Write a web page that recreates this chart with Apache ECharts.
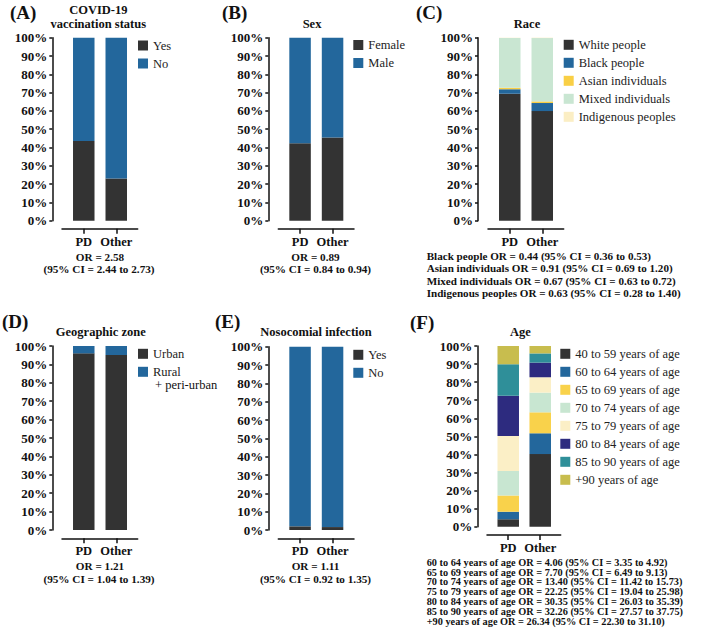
<!DOCTYPE html>
<html>
<head>
<meta charset="utf-8">
<script src="https://cdn.jsdelivr.net/npm/echarts@6/dist/echarts.min.js"></script>
<style>
  html, body { margin: 0; background: #fff; }
  #chart { width: 702px; height: 644px; }
</style>
</head>
<body>
<div id="chart"></div>
<script>
// categories and tick labels
const groups = ['PD', 'Other'];
const pctTicks = [0, 10, 20, 30, 40, 50, 60, 70, 80, 90, 100];

// (A) COVID-19 vaccination status
const vaccYes = [43.5, 23.0];
const vaccNo = [56.5, 77.0];
// (B) sex
const sexFemale = [42.3, 45.4];
const sexMale = [57.7, 54.6];
// (C) race, one array per group, same order as raceNames
const raceNames = ['White people', 'Black people', 'Asian individuals', 'Mixed individuals', 'Indigenous peoples'];
const racePD = [69.4, 2.4, 0.8, 27.2, 0.2];
const raceOther = [59.9, 4.4, 0.9, 34.6, 0.2];
// (D) geographic zone
const zoneUrban = [96.0, 95.1];
const zoneRural = [4.0, 4.9];
// (E) nosocomial infection
const nosoYes = [2.0, 1.6];
const nosoNo = [98.0, 98.4];
// (F) age
const ageNames = ['40 to 59 years of age', '60 to 64 years of age', '65 to 69 years of age', '70 to 74 years of age',
  '75 to 79 years of age', '80 to 84 years of age', '85 to 90 years of age', '+90 years of age'];
const agePD = [4.1, 4.2, 8.9, 13.6, 19.4, 22.3, 17.4, 10.1];
const ageOther = [40.2, 11.5, 11.6, 10.9, 8.5, 8.1, 5.1, 4.1];

// odds ratio notes
const orA = ['OR = 2.58', '(95% CI = 2.44 to 2.73)'];
const orB = ['OR = 0.89', '(95% CI = 0.84 to 0.94)'];
const orD = ['OR = 1.21', '(95% CI = 1.04 to 1.39)'];
const orE = ['OR = 1.11', '(95% CI = 0.92 to 1.35)'];
const orRace = [
  'Black people OR = 0.44 (95% CI = 0.36 to 0.53)',
  'Asian individuals OR = 0.91 (95% CI = 0.69 to 1.20)',
  'Mixed individuals OR = 0.67 (95% CI = 0.63 to 0.72)',
  'Indigenous peoples OR = 0.63 (95% CI = 0.28 to 1.40)'
];
const orAge = [
  '60 to 64 years of age OR = 4.06 (95% CI = 3.35 to 4.92)',
  '65 to 69 years of age OR = 7.70 (95% CI = 6.49 to 9.13)',
  '70 to 74 years of age OR = 13.40 (95% CI = 11.42 to 15.73)',
  '75 to 79 years of age OR = 22.25 (95% CI = 19.04 to 25.98)',
  '80 to 84 years of age OR = 30.35 (95% CI = 26.03 to 35.39)',
  '85 to 90 years of age OR = 32.26 (95% CI = 27.57 to 37.75)',
  '+90 years of age OR = 26.34 (95% CI = 22.30 to 31.10)'
];

const SERIF = 'Liberation Serif';
const DARK = '#333333';
const BLUE = '#23679c';
const raceColors = [DARK, BLUE, '#f9cf45', '#c9e6d2', '#fbeec4'];
const ageColors = [DARK, BLUE, '#f9d24b', '#c8e6d1', '#fbefc6', '#2d2b7f', '#2f8f99', '#c8bd4e'];

// turn per-group arrays into per-series arrays
const byIndex = (a, b) => a.map((v, i) => [v, b[i]]);

const panels = [
  { grid: { left: 62, top: 37.7, width: 75.7, height: 183 }, yOff: 9.7, xOff: 8, range: [-0.67, 1.66],
    legend: { left: 138, top: 39 }, names: ['Yes', 'No'], colors: [DARK, BLUE], values: [vaccYes, vaccNo] },
  { grid: { left: 278.3, top: 37.7, width: 75.7, height: 183 }, yOff: 10, xOff: 8, range: [-0.67, 1.66],
    legend: { left: 353.3, top: 38.5 }, names: ['Female', 'Male'], colors: [DARK, BLUE], values: [sexFemale, sexMale] },
  { grid: { left: 488, top: 37.7, width: 75.7, height: 183 }, yOff: 10, xOff: 8, range: [-0.67, 1.66],
    legend: { left: 563.7, top: 38.3 }, names: raceNames, colors: raceColors, values: byIndex(racePD, raceOther) },
  { grid: { left: 62, top: 346, width: 75.7, height: 184 }, yOff: 9.7, xOff: 8.3, range: [-0.67, 1.66],
    legend: { left: 138, top: 347.3 }, names: ['Urban', 'Rural'], colors: [DARK, BLUE], values: [zoneUrban, zoneRural] },
  { grid: { left: 278.3, top: 346.7, width: 75.7, height: 183.3 }, yOff: 10, xOff: 8.3, range: [-0.67, 1.66],
    legend: { left: 353.3, top: 348.3 }, names: ['Yes', 'No'], colors: [DARK, BLUE], values: [nosoYes, nosoNo] },
  { grid: { left: 487, top: 346, width: 73.7, height: 180.7 }, yOff: 9.7, xOff: 8.3, range: [-0.664, 1.64],
    legend: { left: 560.3, top: 347.3 }, names: ageNames, colors: ageColors, values: byIndex(agePD, ageOther) }
];

const grids = [], xAxes = [], yAxes = [], legends = [], series = [];
panels.forEach((p, i) => {
  grids.push(p.grid);
  xAxes.push({
    type: 'value', gridIndex: i, min: p.range[0], max: p.range[1], offset: p.xOff,
    splitLine: { show: false },
    axisLine: { show: true, onZero: false, lineStyle: { color: '#111', width: 1.5 } },
    axisTick: { show: true, customValues: [0, 1], length: 5, lineStyle: { color: '#111', width: 1.5 } },
    axisLabel: { customValues: [0, 1], margin: 6.5, formatter: v => groups[Math.round(v)],
      fontFamily: SERIF, fontWeight: 'bold', fontSize: 12.5, color: '#111' }
  });
  yAxes.push({
    type: 'value', gridIndex: i, min: pctTicks[0], max: pctTicks[pctTicks.length - 1],
    interval: pctTicks[1] - pctTicks[0], offset: p.yOff,
    splitLine: { show: false },
    axisLine: { show: true, onZero: false, lineStyle: { color: '#111', width: 1.5 } },
    axisTick: { show: true, length: 3, lineStyle: { color: '#111', width: 1.5 } },
    axisLabel: { margin: 5, formatter: '{value}%', fontFamily: SERIF, fontWeight: 'bold', fontSize: 13, color: '#111' }
  });
  legends.push({
    data: p.names, orient: 'vertical', left: p.legend.left, top: p.legend.top, padding: 0,
    itemWidth: 10, itemHeight: 10, itemGap: 5, icon: 'rect', selectedMode: false,
    textStyle: { fontFamily: SERIF, fontSize: 12.5, color: '#222', lineHeight: 10 }
  });
  p.names.forEach((name, k) => {
    // value first so that the stack is computed on the y dimension
    series.push({
      type: 'bar', name: name, xAxisIndex: i, yAxisIndex: i, stack: 'panel' + i,
      barWidth: 21.5, itemStyle: { color: p.colors[k] },
      encode: { x: 1, y: 0 },
      data: groups.map((g, j) => [p.values[k][j], j])
    });
  });
});

const txt = (x, y, text, size) => ({
  type: 'text', x: x, y: y,
  style: { text: text, fontFamily: SERIF, fontSize: size, fontWeight: 'bold', fill: '#111',
    align: 'center', verticalAlign: 'middle' }
});
const txtLeft = (x, y, text, size, weight) => ({
  type: 'text', x: x, y: y,
  style: { text: text, fontFamily: SERIF, fontSize: size, fontWeight: weight || 'bold', fill: '#111',
    align: 'left', verticalAlign: 'middle' }
});

const graphics = [
  txtLeft(10, 12, '(A)', 19), txtLeft(222, 12, '(B)', 19), txtLeft(416, 12, '(C)', 19),
  txtLeft(2, 321, '(D)', 19), txtLeft(215, 321, '(E)', 19), txtLeft(410, 322, '(F)', 19),
  txt(98.3, 10, 'COVID-19', 12.5), txt(98.3, 24, 'vaccination status', 12.5),
  txt(312, 24, 'Sex', 12.5), txt(527, 24, 'Race', 12.5),
  txt(100.8, 331.7, 'Geographic zone', 12.5), txt(316, 331.7, 'Nosocomial infection', 12.5),
  txt(520.3, 331.7, 'Age', 12.5),
  txt(100, 257, orA[0], 11.2), txt(99, 268.5, orA[1], 11.2),
  txt(315.5, 257, orB[0], 11.2), txt(315.5, 268.5, orB[1], 11.2),
  txt(100, 565.7, orD[0], 11.2), txt(99, 578.7, orD[1], 11.2),
  txt(315.5, 565.7, orE[0], 11.2), txt(315.5, 578.7, orE[1], 11.2),
  txtLeft(155, 384.5, '+ peri-urban', 12.5, 'normal')
];
orRace.forEach((line, k) => graphics.push(txtLeft(426.7, 255.7 + k * 12.5, line, 11.1)));
orAge.forEach((line, k) => graphics.push(txtLeft(426.7, 562.3 + k * 9.8, line, 10.3)));

const chart = echarts.init(document.getElementById('chart'), null, { renderer: 'svg' });
chart.setOption({
  animation: false,
  backgroundColor: '#fff',
  textStyle: { fontFamily: SERIF },
  grid: grids,
  xAxis: xAxes,
  yAxis: yAxes,
  legend: legends,
  series: series,
  graphic: graphics
});
</script>
</body>
</html>
